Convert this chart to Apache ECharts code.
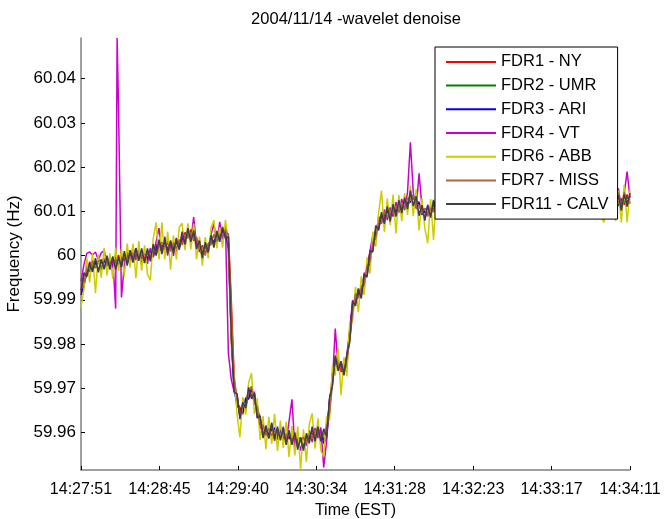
<!DOCTYPE html>
<html>
<head>
<meta charset="utf-8">
<title>2004/11/14 -wavelet denoise</title>
<script src="https://cdn.jsdelivr.net/npm/echarts@6/dist/echarts.min.js"></script>
<style>
  html, body { margin: 0; padding: 0; background: #ffffff; }
  #chart { width: 664px; height: 519px; }
</style>
</head>
<body>
<div id="chart"></div>
<script>
// Sample instants, seconds after 14:27:51 EST (one sample every 2 s)
const sampleTimes = [
  0,2,4,6,8,10,12,14,16,18,20,22,24,26,28,30,32,34,36,38,
  40,42,44,46,48,50,52,54,56,58,60,62,64,66,68,70,72,74,76,78,
  80,82,84,86,88,90,92,94,96,98,100,102,104,106,108,110,112,114,116,118,
  120,122,124,126,128,130,132,134,136,138,140,142,144,146,148,150,152,154,156,158,
  160,162,164,166,168,170,172,174,176,178,180,182,184,186,188,190,192,194,196,198,
  200,202,204,206,208,210,212,214,216,218,220,222,224,226,228,230,232,234,236,238,
  240,242,244,246,248,250,252,254,256,258,260,262,264,266,268,270,272,274,276,278,
  280,282,284,286,288,290,292,294,296,298,300,302,304,306,308,310,312,314,316,318,
  320,322,324,326,328,330,332,334,336,338,340,342,344,346,348,350,352,354,356,358,
  360,362,364,366,368,370,372,374,376,378,380
];

// Clock labels of the time axis ticks
const timeTickLabels = ['14:27:51', '14:28:45', '14:29:40', '14:30:34', '14:31:28', '14:32:23', '14:33:17', '14:34:11'];
const timeSpan = 380;

// Frequency ticks (Hz)
const freqTicks = [59.96, 59.97, 59.98, 59.99, 60.00, 60.01, 60.02, 60.03, 60.04];

// Denoised frequency per recorder (Hz)
const nyHz = [
  59.9916,59.9955,59.9959,59.9986,59.9971,59.9987,59.9967,59.9984,59.9994,59.9976,
  59.9993,59.9973,59.9990,60.0001,59.9980,59.9997,59.9990,60.0008,59.9992,60.0012,
  59.9997,60.0011,59.9994,59.9991,60.0014,60.0005,60.0026,60.0009,60.0023,60.0013,
  60.0033,60.0016,60.0025,60.0009,60.0034,60.0028,60.0052,60.0044,60.0059,60.0034,
  60.0037,60.0008,60.0023,60.0006,60.0023,60.0039,60.0025,60.0048,60.0041,60.0058,
  60.0042,60.0050,59.9901,59.9727,59.9665,59.9657,59.9641,59.9674,59.9675,59.9703,
  59.9672,59.9660,59.9610,59.9609,59.9607,59.9593,59.9615,59.9590,59.9599,59.9606,
  59.9584,59.9597,59.9585,59.9598,59.9573,59.9583,59.9588,59.9572,59.9571,59.9596,
  59.9598,59.9590,59.9608,59.9583,59.9595,59.9614,59.9646,59.9734,59.9755,59.9764,
  59.9737,59.9750,59.9770,59.9813,59.9869,59.9912,59.9907,59.9931,59.9936,59.9971,
  60.0006,60.0014,60.0056,60.0060,60.0090,60.0084,60.0109,60.0094,60.0090,60.0109,
  60.0111,60.0100,60.0126,60.0117,60.0139,60.0116,60.0121,60.0121,60.0093,60.0101,
  60.0089,60.0113,60.0104,60.0121,60.0103,60.0126,60.0132,60.0120,60.0116,60.0132,
  60.0120,60.0109,60.0133,60.0122,60.0141,60.0125,60.0111,60.0128,60.0129,60.0120,
  60.0142,60.0126,60.0134,60.0112,60.0122,60.0131,60.0114,60.0129,60.0118,60.0135,
  60.0119,60.0130,60.0109,60.0126,60.0112,60.0132,60.0139,60.0120,60.0125,60.0109,
  60.0127,60.0112,60.0128,60.0115,60.0132,60.0135,60.0110,60.0126,60.0116,60.0131,
  60.0115,60.0129,60.0134,60.0114,60.0124,60.0111,60.0133,60.0119,60.0132,60.0110,
  60.0122,60.0105,60.0123,60.0129,60.0112,60.0137,60.0120,60.0126,60.0115,60.0138,60.0120
];
const umrHz = [
  59.9935,59.9942,59.9977,59.9963,59.9980,59.9972,59.9992,59.9971,59.9986,59.9993,
  59.9972,59.9991,59.9982,59.9978,60.0000,59.9988,60.0002,59.9986,60.0008,59.9997,
  60.0014,59.9992,60.0005,60.0004,59.9993,60.0017,60.0009,60.0027,60.0009,60.0032,
  60.0014,60.0032,60.0015,60.0029,60.0017,60.0040,60.0034,60.0058,60.0038,60.0048,
  60.0026,60.0028,60.0006,60.0024,60.0012,60.0033,60.0047,60.0033,60.0050,60.0037,
  60.0058,60.0025,59.9811,59.9695,59.9682,59.9639,59.9661,59.9660,59.9691,59.9685,
  59.9689,59.9646,59.9630,59.9594,59.9603,59.9610,59.9590,59.9606,59.9591,59.9609,
  59.9588,59.9595,59.9601,59.9578,59.9588,59.9575,59.9584,59.9566,59.9590,59.9584,
  59.9607,59.9589,59.9601,59.9605,59.9583,59.9595,59.9671,59.9714,59.9765,59.9745,
  59.9755,59.9740,59.9750,59.9832,59.9886,59.9893,59.9918,59.9915,59.9955,59.9960,
  59.9984,60.0032,60.0046,60.0081,60.0074,60.0095,60.0084,60.0105,60.0103,60.0093,
  60.0118,60.0107,60.0123,60.0112,60.0134,60.0136,60.0110,60.0097,60.0106,60.0106,
  60.0093,60.0110,60.0099,60.0119,60.0127,60.0113,60.0126,60.0115,60.0133,60.0117,
  60.0129,60.0111,60.0129,60.0117,60.0137,60.0123,60.0133,60.0112,60.0127,60.0117,
  60.0140,60.0124,60.0137,60.0120,60.0110,60.0124,60.0130,60.0117,60.0132,60.0115,
  60.0132,60.0114,60.0124,60.0111,60.0136,60.0121,60.0132,60.0116,60.0130,60.0114,
  60.0126,60.0109,60.0126,60.0113,60.0137,60.0123,60.0129,60.0110,60.0128,60.0114,
  60.0127,60.0117,60.0136,60.0116,60.0127,60.0111,60.0128,60.0132,60.0113,60.0121,
  60.0103,60.0126,60.0115,60.0129,60.0115,60.0130,60.0112,60.0129,60.0118,60.0133,60.0117
];
const ariHz = [
  59.9911,59.9931,59.9961,59.9982,59.9966,59.9983,59.9989,59.9968,59.9989,59.9980,
  59.9996,59.9977,59.9996,59.9976,59.9993,60.0002,59.9982,60.0004,59.9996,60.0016,
  59.9994,60.0002,60.0006,59.9993,60.0011,59.9998,60.0017,60.0026,60.0012,60.0031,
  60.0012,60.0027,60.0013,60.0033,60.0019,60.0041,60.0031,60.0052,60.0044,60.0054,
  60.0023,60.0017,59.9999,60.0019,60.0016,60.0041,60.0030,60.0046,60.0034,60.0057,
  60.0046,60.0015,59.9821,59.9699,59.9660,59.9652,59.9645,59.9678,59.9677,59.9699,
  59.9666,59.9658,59.9628,59.9596,59.9610,59.9594,59.9606,59.9610,59.9584,59.9604,
  59.9605,59.9584,59.9593,59.9577,59.9593,59.9573,59.9582,59.9588,59.9574,59.9592,
  59.9585,59.9607,59.9594,59.9602,59.9575,59.9587,59.9665,59.9715,59.9769,59.9750,
  59.9752,59.9735,59.9767,59.9815,59.9890,59.9895,59.9914,59.9910,59.9951,59.9963,
  60.0003,60.0013,60.0058,60.0065,60.0093,60.0080,60.0101,60.0089,60.0110,60.0098,
  60.0113,60.0101,60.0125,60.0118,60.0121,60.0135,60.0114,60.0119,60.0092,60.0100,
  60.0109,60.0096,60.0116,60.0103,60.0121,60.0129,60.0115,60.0128,60.0113,60.0128,
  60.0113,60.0129,60.0116,60.0134,60.0118,60.0136,60.0118,60.0128,60.0115,60.0133,
  60.0122,60.0136,60.0119,60.0134,60.0117,60.0109,60.0129,60.0119,60.0137,60.0114,
  60.0127,60.0111,60.0127,60.0116,60.0130,60.0116,60.0133,60.0119,60.0132,60.0109,
  60.0120,60.0125,60.0111,60.0131,60.0123,60.0135,60.0112,60.0124,60.0111,60.0131,
  60.0117,60.0129,60.0114,60.0129,60.0114,60.0131,60.0117,60.0128,60.0108,60.0123,
  60.0123,60.0109,60.0127,60.0113,60.0129,60.0116,60.0132,60.0115,60.0135,60.0121,60.0129
];
const vtHz = [
  59.9941,59.9979,60.0005,60.0008,60.0001,60.0008,59.9990,60.0006,60.0011,59.9987,
  59.9969,59.9993,59.9880,60.0330,59.9905,59.9980,60.0008,59.9989,60.0019,59.9990,
  60.0011,59.9981,60.0011,59.9981,60.0017,59.9996,60.0032,60.0062,60.0008,60.0043,
  60.0000,60.0029,59.9999,60.0040,60.0016,60.0050,60.0021,60.0060,60.0035,60.0087,
  60.0022,60.0035,59.9991,60.0025,60.0007,60.0048,60.0072,60.0025,60.0076,60.0038,
  60.0065,59.9780,59.9720,59.9692,59.9686,59.9635,59.9666,59.9650,59.9698,59.9682,
  59.9692,59.9633,59.9633,59.9591,59.9616,59.9588,59.9618,59.9581,59.9607,59.9588,
  59.9613,59.9578,59.9625,59.9675,59.9567,59.9588,59.9559,59.9592,59.9572,59.9605,
  59.9578,59.9610,59.9587,59.9611,59.9521,59.9580,59.9675,59.9712,59.9835,59.9744,
  59.9760,59.9730,59.9775,59.9832,59.9899,59.9890,59.9925,59.9911,59.9961,59.9955,
  60.0010,60.0045,60.0036,60.0089,60.0072,60.0104,60.0080,60.0109,60.0088,60.0121,
  60.0097,60.0128,60.0103,60.0143,60.0256,60.0142,60.0106,60.0186,60.0110,60.0082,
  60.0115,60.0092,60.0123,60.0101,60.0134,60.0106,60.0135,60.0108,60.0140,60.0109,
  60.0136,60.0104,60.0136,60.0110,60.0144,60.0115,60.0140,60.0105,60.0135,60.0115,
  60.0150,60.0117,60.0141,60.0104,60.0132,60.0108,60.0137,60.0110,60.0141,60.0109,
  60.0136,60.0107,60.0135,60.0104,60.0135,60.0114,60.0146,60.0112,60.0137,60.0100,
  60.0127,60.0107,60.0140,60.0110,60.0141,60.0110,60.0137,60.0108,60.0135,60.0106,
  60.0138,60.0108,60.0136,60.0110,60.0135,60.0107,60.0138,60.0106,60.0134,60.0104,
  60.0131,60.0102,60.0134,60.0106,60.0136,60.0116,60.0152,60.0107,60.0140,60.0190,60.0130
];
// Short VT transient between the regular samples
const vtBurstTimes = [25];
const vtBurstHz = [60.0492];
const abbHz = [
  59.9882,59.9924,59.9995,59.9939,60.0006,59.9915,60.0002,59.9950,60.0017,59.9955,
  60.0005,59.9947,60.0018,59.9965,60.0015,59.9952,60.0027,59.9973,60.0027,59.9949,
  60.0033,59.9966,60.0023,59.9958,59.9944,60.0039,60.0075,59.9991,60.0075,59.9992,
  60.0054,59.9968,60.0045,59.9991,60.0064,60.0073,60.0012,60.0073,60.0014,60.0072,
  59.9992,60.0043,59.9977,60.0042,59.9994,60.0064,60.0080,60.0016,60.0064,60.0018,
  60.0080,60.0030,59.9801,59.9732,59.9641,59.9589,59.9680,59.9640,59.9712,59.9734,
  59.9642,59.9677,59.9583,59.9637,59.9562,59.9635,59.9574,59.9642,59.9558,59.9627,
  59.9565,59.9624,59.9544,59.9615,59.9548,59.9614,59.9516,59.9607,59.9533,59.9619,
  59.9643,59.9563,59.9632,59.9559,59.9545,59.9636,59.9627,59.9750,59.9729,59.9792,
  59.9684,59.9770,59.9727,59.9850,59.9853,59.9929,59.9872,59.9953,59.9911,59.9996,
  59.9959,60.0054,60.0020,60.0097,60.0147,60.0053,60.0129,60.0069,60.0138,60.0050,
  60.0137,60.0078,60.0141,60.0092,60.0158,60.0089,60.0150,60.0057,60.0129,60.0061,
  60.0028,60.0128,60.0035,60.0143,60.0091,60.0154,60.0092,60.0153,60.0090,60.0151,
  60.0089,60.0154,60.0092,60.0154,60.0094,60.0160,60.0093,60.0150,60.0089,60.0161,
  60.0098,60.0157,60.0095,60.0157,60.0090,60.0147,60.0089,60.0156,60.0093,60.0154,
  60.0089,60.0152,60.0088,60.0150,60.0090,60.0154,60.0093,60.0158,60.0091,60.0148,
  60.0088,60.0150,60.0089,60.0154,60.0093,60.0157,60.0093,60.0154,60.0088,60.0148,
  60.0090,60.0156,60.0089,60.0153,60.0089,60.0151,60.0091,60.0156,60.0089,60.0146,
  60.0088,60.0075,60.0150,60.0090,60.0153,60.0078,60.0147,60.0075,60.0160,60.0075,60.0150
];
const missHz = [
  59.9931,59.9939,59.9971,59.9966,59.9988,59.9973,59.9987,59.9990,59.9971,59.9989,
  59.9981,59.9996,59.9978,59.9992,59.9976,60.0001,59.9988,60.0010,59.9999,60.0013,
  59.9992,60.0004,59.9987,60.0011,60.0000,60.0018,60.0002,60.0021,60.0030,60.0019,
  60.0028,60.0009,60.0029,60.0017,60.0036,60.0024,60.0047,60.0039,60.0053,60.0036,
  60.0042,60.0014,60.0019,60.0000,60.0028,60.0024,60.0048,60.0032,60.0048,60.0041,
  60.0059,60.0045,59.9881,59.9717,59.9681,59.9639,59.9660,59.9657,59.9691,59.9704,
  59.9670,59.9656,59.9614,59.9617,59.9593,59.9608,59.9593,59.9604,59.9607,59.9590,
  59.9602,59.9579,59.9598,59.9583,59.9592,59.9569,59.9580,59.9589,59.9576,59.9597,
  59.9586,59.9602,59.9610,59.9589,59.9594,59.9613,59.9643,59.9707,59.9768,59.9751,
  59.9757,59.9737,59.9765,59.9805,59.9872,59.9914,59.9904,59.9928,59.9933,59.9976,
  59.9986,60.0029,60.0040,60.0075,60.0075,60.0100,60.0087,60.0102,60.0095,60.0112,
  60.0099,60.0116,60.0105,60.0130,60.0124,60.0137,60.0109,60.0114,60.0096,60.0107,
  60.0090,60.0108,60.0098,60.0122,60.0111,60.0127,60.0110,60.0129,60.0134,60.0112,
  60.0123,60.0110,60.0135,60.0123,60.0133,60.0117,60.0131,60.0115,60.0134,60.0120,
  60.0137,60.0119,60.0133,60.0119,60.0132,60.0110,60.0126,60.0115,60.0137,60.0120,
  60.0126,60.0108,60.0125,60.0115,60.0134,60.0118,60.0135,60.0114,60.0129,60.0114,
  60.0125,60.0109,60.0126,60.0115,60.0136,60.0120,60.0134,60.0111,60.0122,60.0113,
  60.0133,60.0115,60.0130,60.0116,60.0128,60.0114,60.0130,60.0113,60.0128,60.0110,
  60.0124,60.0106,60.0125,60.0112,60.0132,60.0119,60.0142,60.0102,60.0144,60.0113,60.0137
];
const calvHz = [
  59.9922,59.9961,59.9952,59.9980,59.9963,59.9994,59.9962,59.9991,59.9969,60.0000,
  59.9969,59.9998,59.9968,59.9997,59.9974,60.0010,59.9977,60.0012,59.9984,60.0017,
  59.9988,60.0016,59.9983,60.0016,59.9987,60.0026,60.0000,60.0036,60.0003,60.0039,
  60.0005,60.0034,60.0005,60.0038,60.0013,60.0054,60.0025,60.0062,60.0031,60.0057,
  60.0015,60.0034,59.9994,60.0030,60.0007,60.0046,60.0018,60.0056,60.0031,60.0065,
  60.0038,60.0043,59.9821,59.9691,59.9687,59.9630,59.9668,59.9655,59.9702,59.9676,
  59.9689,59.9633,59.9638,59.9587,59.9614,59.9586,59.9622,59.9585,59.9613,59.9582,
  59.9610,59.9572,59.9605,59.9572,59.9600,59.9561,59.9589,59.9559,59.9598,59.9575,
  59.9613,59.9580,59.9613,59.9580,59.9608,59.9591,59.9677,59.9704,59.9774,59.9739,
  59.9761,59.9729,59.9777,59.9806,59.9897,59.9886,59.9925,59.9903,59.9958,59.9951,
  60.0011,60.0008,60.0068,60.0057,60.0098,60.0072,60.0111,60.0077,60.0116,60.0088,
  60.0125,60.0096,60.0131,60.0105,60.0147,60.0112,60.0134,60.0090,60.0114,60.0079,
  60.0113,60.0086,60.0126,60.0098,60.0133,60.0104,60.0136,60.0107,60.0139,60.0103,
  60.0133,60.0105,60.0142,60.0113,60.0147,60.0111,60.0137,60.0103,60.0139,60.0112,
  60.0148,60.0116,60.0144,60.0108,60.0137,60.0102,60.0135,60.0107,60.0143,60.0109,
  60.0138,60.0105,60.0135,60.0105,60.0141,60.0111,60.0143,60.0108,60.0137,60.0101,
  60.0131,60.0103,60.0139,60.0110,60.0145,60.0110,60.0137,60.0102,60.0133,60.0103,
  60.0139,60.0112,60.0142,60.0106,60.0136,60.0106,60.0139,60.0105,60.0135,60.0099,
  60.0129,60.0101,60.0137,60.0107,60.0141,60.0110,60.0137,60.0102,60.0139,60.0111,60.0141
];

const recorderNames = ['FDR1 - NY', 'FDR2 - UMR', 'FDR3 - ARI', 'FDR4 - VT', 'FDR6 - ABB', 'FDR7 - MISS', 'FDR11 - CALV'];
const recorderValues = [nyHz, umrHz, ariHz, vtHz, abbHz, missHz, calvHz];
const recorderColors = ['#ff0000', '#008000', '#0000ff', '#cc00cc', '#cccc00', '#b4643c', '#404040'];

function toPoints(values, extraTimes, extraValues) {
  const pts = values.map((v, i) => [sampleTimes[i], v]);
  if (extraTimes) {
    extraTimes.forEach((t, i) => pts.push([t, extraValues[i]]));
    pts.sort((a, b) => a[0] - b[0]);
  }
  return pts;
}

const FONT = '"Liberation Sans", Arial, Helvetica, sans-serif';
const tickStep = timeSpan / (timeTickLabels.length - 1);

const chart = echarts.init(document.getElementById('chart'), null, { renderer: 'canvas' });

chart.setOption({
  animation: false,
  backgroundColor: '#ffffff',
  textStyle: { fontFamily: FONT },
  title: {
    text: '2004/11/14 -wavelet denoise',
    left: 356,
    top: 11,
    padding: 0,
    textAlign: 'center',
    textStyle: { fontFamily: FONT, fontSize: 16.5, fontWeight: 'normal', color: '#000' }
  },
  grid: { left: 81, right: 34, top: 38, bottom: 49, containLabel: false, outerBoundsMode: 'none' },
  legend: {
    orient: 'vertical',
    left: 435,
    top: 47,
    padding: [6.4, 9, 6.5, 10],
    itemWidth: 50,
    itemHeight: 14,
    itemGap: 6.7,
    backgroundColor: '#ffffff',
    borderColor: '#000000',
    borderWidth: 1,
    borderRadius: 0,
    itemStyle: { opacity: 0 },
    textStyle: { fontFamily: FONT, fontSize: 16.5, color: '#000' },
    data: recorderNames
  },
  xAxis: {
    type: 'value',
    min: 0,
    max: timeSpan,
    interval: tickStep,
    name: 'Time (EST)',
    nameLocation: 'middle',
    nameGap: 32,
    nameTextStyle: { fontFamily: FONT, fontSize: 16, color: '#000' },
    axisLine: { show: true, onZero: false, lineStyle: { color: '#808080', width: 1.5 } },
    axisTick: { show: true, inside: true, length: 4, lineStyle: { color: '#000', width: 1 } },
    axisLabel: {
      margin: 12,
      fontFamily: FONT,
      fontSize: 16,
      color: '#000',
      hideOverlap: false,
      formatter: (v) => timeTickLabels[Math.round(v / tickStep)] || ''
    },
    splitLine: { show: false }
  },
  yAxis: {
    type: 'value',
    min: 59.9515,
    max: 60.0492,
    name: 'Frequency (Hz)',
    nameLocation: 'middle',
    nameGap: 55,
    nameTextStyle: { fontFamily: FONT, fontSize: 17, color: '#000' },
    axisLine: { show: true, onZero: false, lineStyle: { color: '#808080', width: 1.5 } },
    axisTick: { show: true, inside: true, length: 4, customValues: freqTicks, lineStyle: { color: '#000', width: 1 } },
    axisLabel: {
      margin: 5,
      fontFamily: FONT,
      fontSize: 17,
      color: '#000',
      customValues: freqTicks,
      formatter: (v) => String(parseFloat(Number(v).toFixed(2)))
    },
    splitLine: { show: false }
  },
  series: recorderNames.map((name, k) => ({
    name: name,
    type: 'line',
    data: k === 3 ? toPoints(recorderValues[k], vtBurstTimes, vtBurstHz) : toPoints(recorderValues[k]),
    symbol: 'none',
    showSymbol: false,
    silent: true,
    color: recorderColors[k],
    lineStyle: { color: recorderColors[k], width: 1.5 },
    emphasis: { disabled: true }
  }))
});
</script>
</body>
</html>
